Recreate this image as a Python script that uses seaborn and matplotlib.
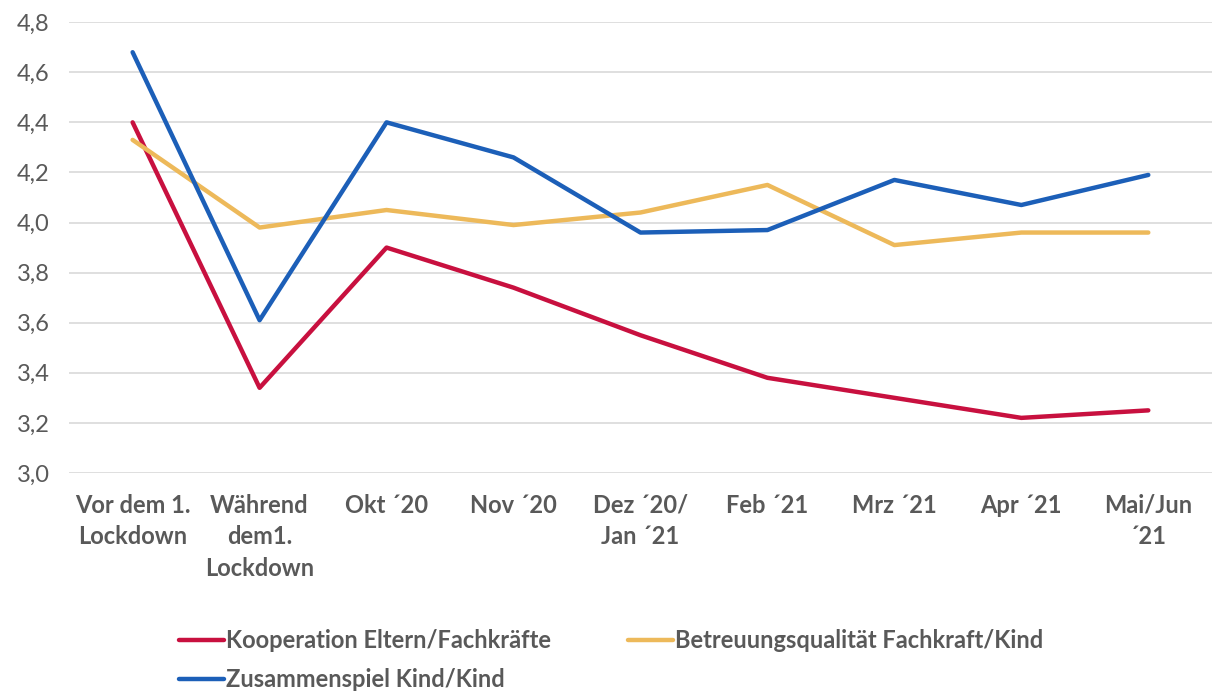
import matplotlib
matplotlib.use("Agg")
import matplotlib.pyplot as plt
import seaborn as sns
import pandas as pd

# Data
categories = ["Vor dem 1.\nLockdown", "Während\ndem1.\nLockdown", "Okt ´20", "Nov ´20",
              "Dez ´20/\nJan ´21", "Feb ´21", "Mrz ´21", "Apr ´21", "Mai/Jun\n´21"]
kooperation = [4.40, 3.34, 3.90, 3.74, 3.55, 3.38, 3.30, 3.22, 3.25]
betreuung = [4.33, 3.98, 4.05, 3.99, 4.04, 4.15, 3.91, 3.96, 3.96]
zusammenspiel = [4.68, 3.61, 4.40, 4.26, 3.96, 3.97, 4.17, 4.07, 4.19]
series_names = ["Kooperation Eltern/Fachkräfte",
                "Betreuungsqualität Fachkraft/Kind",
                "Zusammenspiel Kind/Kind"]
yticks = [3.0, 3.2, 3.4, 3.6, 3.8, 4.0, 4.2, 4.4, 4.6, 4.8]

colors = ["#C8103F", "#EDB95A", "#1C5FB8"]
text_color = "#595959"

df = pd.DataFrame({
    "Zeitpunkt": categories * 3,
    "Wert": kooperation + betreuung + zusammenspiel,
    "Reihe": [series_names[0]] * 9 + [series_names[1]] * 9 + [series_names[2]] * 9,
})

sns.set_style("white")
plt.rcParams["font.family"] = ["Lato", "DejaVu Sans"]

fig, ax = plt.subplots(figsize=(12.13, 6.93), dpi=100)
fig.subplots_adjust(left=0.057, right=0.999, top=0.968, bottom=0.3175)

sns.lineplot(data=df, x="Zeitpunkt", y="Wert", hue="Reihe",
             hue_order=series_names, palette=colors, linewidth=3.2,
             sort=False, ax=ax)

ax.set_xlim(-0.5, 8.5)
ax.set_ylim(3.0, 4.8)
ax.set_yticks(yticks)
ax.set_yticklabels([f"{v:.1f}".replace(".", ",") for v in yticks],
                   fontsize=17, color=text_color)
ax.tick_params(axis="x", labelsize=17, labelcolor=text_color, length=0, pad=15)
ax.tick_params(axis="y", length=0, pad=14)
for lab in ax.get_xticklabels():
    lab.set_fontweight("bold")
    lab.set_linespacing(1.45)
ax.grid(axis="y", color="#D9D9D9", linewidth=1.2)
ax.set_axisbelow(True)
for s in ax.spines.values():
    s.set_visible(False)
ax.set_xlabel("")
ax.set_ylabel("")

# legend filled column-wise: order so rows read like the reference
handles, labels = ax.get_legend_handles_labels()
idx = [0, 2, 1]
ax.legend([handles[i] for i in idx], [labels[i] for i in idx],
          loc="upper left", bbox_to_anchor=(0.088, -0.325), ncol=2, frameon=False,
          handlelength=1.9, handletextpad=0.1, columnspacing=3.25,
          prop={"size": 17, "weight": "bold"}, labelcolor=text_color,
          borderaxespad=0, labelspacing=0.7)

plt.savefig("out.png", dpi=100)
